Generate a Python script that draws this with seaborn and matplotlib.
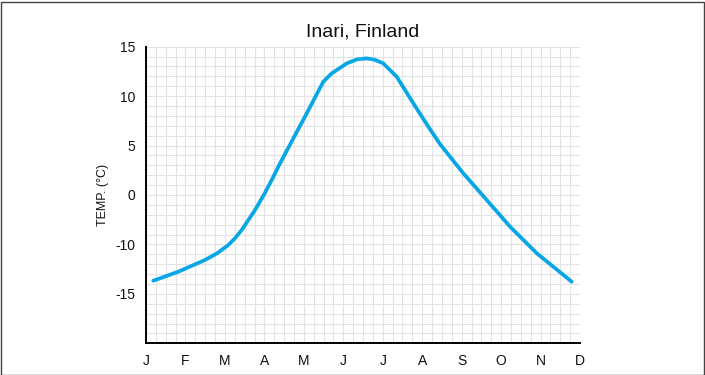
import numpy as np
import pandas as pd
import matplotlib
matplotlib.use("Agg")
import matplotlib.pyplot as plt
from matplotlib.ticker import FixedLocator, MultipleLocator
from matplotlib.patches import Rectangle
import seaborn as sns

# Position along the year (0 = Jan tick, 11 = Dec tick) and temperature (°C)
month_pos = [0.185, 0.819, 1.496, 1.8, 2.086, 2.25, 2.426, 2.75, 3.0, 3.186, 3.397,
             3.734, 4.074, 4.494, 4.707, 5.087, 5.35, 5.594, 5.8, 6.015, 6.355,
             6.776, 7.156, 7.452, 8.043, 8.636, 9.227, 9.904, 10.79]
temps = [-13.67, -12.76, -11.57, -10.9, -10.06, -8.8, -7.08, -3.2, 0.1, 1.52, 3.20,
         5.73, 8.26, 11.46, 12.30, 13.31, 13.72, 13.82, 13.68, 13.31, 11.96,
         9.27, 6.91, 5.15, 2.19, -1.01, -6.41, -10.89, -13.77]
month_labels = ["J", "F", "M", "A", "M", "J", "J", "A", "S", "O", "N", "D"]
y_ticks = [15, 10, 5, 0, -10, -15]

df = pd.DataFrame({"month": month_pos, "temp": temps})

sns.set_style("white")
plt.rcParams["font.family"] = ["Liberation Sans", "DejaVu Sans"]


# The temperature axis is compressed between 0 and -10 °C
def forward(v):
    v = np.asarray(v, dtype=float)
    return np.where(v >= 0, v, np.where(v >= -10, v / 2.0, v + 5.0))


def inverse(p):
    p = np.asarray(p, dtype=float)
    return np.where(p >= 0, p, np.where(p >= -5, p * 2.0, p - 5.0))


fig = plt.figure(figsize=(7.05, 3.75), dpi=100)
ax = fig.add_axes([146 / 705, 1 - 343.3 / 375, 434 / 705, (343.3 - 46.7) / 375])
ax.set_yscale("function", functions=(forward, inverse))

sns.lineplot(data=df, x="month", y="temp", ax=ax, color="#07A7E6",
             linewidth=2.7, sort=False, zorder=3)

ax.set_xlim(0, 11)
ax.set_ylim(-20, 15)

ax.xaxis.set_major_locator(FixedLocator(range(12)))
ax.set_xticklabels(month_labels)
ax.xaxis.set_minor_locator(MultipleLocator(0.25))

ax.yaxis.set_major_locator(FixedLocator(y_ticks))
ax.set_yticklabels([str(t) for t in y_ticks])
ax.yaxis.set_minor_locator(FixedLocator(inverse(np.arange(-15, 16))))

ax.grid(which="both", color="#e3e3e3", linewidth=0.8, zorder=0)
ax.set_axisbelow(True)

for side in ("top", "right"):
    ax.spines[side].set_visible(False)
for side in ("left", "bottom"):
    ax.spines[side].set_color("black")
    ax.spines[side].set_linewidth(1.4)

ax.tick_params(axis="both", which="major", direction="out", length=5, width=1,
               color="#333333", labelsize=10, pad=3, labelcolor="#111111")
ax.tick_params(axis="both", which="minor", length=0)

ax.set_xlabel("")
ax.set_ylabel("TEMP. (°C)", fontsize=9, labelpad=4, color="#111111")
ax.set_title("Inari, Finland", fontsize=14, pad=7, color="#111111")

fig.patches.append(Rectangle((0.5 / 705, 0.5 / 375), 703 / 705, 373 / 375,
                             transform=fig.transFigure, fill=False,
                             edgecolor="#444444", linewidth=1.0))

fig.savefig("out.png", dpi=100)
